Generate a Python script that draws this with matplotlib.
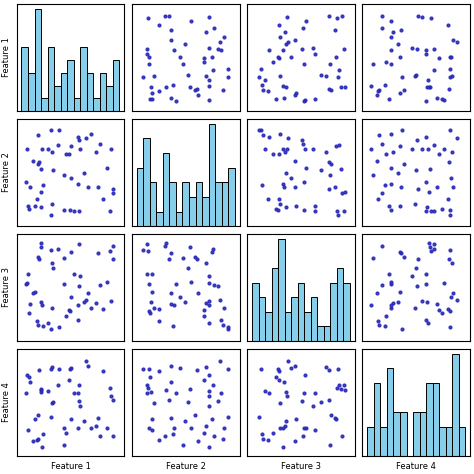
import matplotlib
matplotlib.use("Agg")
import matplotlib.pyplot as plt

feature_names = ["Feature 1", "Feature 2", "Feature 3", "Feature 4"]

f1 = [.30, .38, .17, .58, .71, .66, .59, .80, .37, .51, .06, .21, .27, .60, .31, .45, .49, .76, .91, .12,
      .18, .17, .20, .87, .32, .43, .51, .64, .05, .22, .09, .58, .68, .78, .93, .93, .20, .16, .83, .31,
      .07, .08, .14, .20, .43, .50, .54, .59, .90, .30]
f2 = [.93, .93, .88, .86, .89, .85, .83, .79, .78, .77, .74, .74, .74, .74, .71, .69, .69, .71, .74, .62,
      .61, .59, .54, .55, .52, .47, .44, .49, .40, .37, .35, .38, .35, .35, .33, .29, .30, .23, .23, .18,
      .16, .13, .16, .15, .12, .12, .10, .10, .11, .06]
f3 = [.07, .09, .11, .17, .29, .37, .51, .52, .89, .86, .54, .32, .13, .62, .75, .21, .27, .34, .36, .44,
      .79, .81, .91, .55, .70, .80, .40, .35, .53, .10, .33, .32, .44, .85, .79, .92, .95, .16, .28, .29,
      .64, .24, .45, .35, .53, .26, .64, .94, .87, .88]
f4 = [.35, .84, .12, .60, .24, .92, .51, .15, .68, .33, .78, .04, .62, .46, .86, .19, .73, .26, .56, .10,
      .83, .37, .64, .24, .50, .06, .85, .31, .60, .18, .71, .24, .87, .34, .52, .15, .63, .11, .82, .49,
      .22, .76, .33, .61, .24, .84, .60, .68, .65, .84]

data = [f1, f2, f3, f4]
n = len(data)

fig, axes = plt.subplots(n, n, figsize=(4.74, 4.74), dpi=100)
fig.subplots_adjust(left=0.035, right=0.992, bottom=0.038, top=0.992, wspace=0.07, hspace=0.07)

for i in range(n):
    for j in range(n):
        ax = axes[i, j]
        if i == j:
            ax.hist(data[i], bins=15, color="skyblue", edgecolor="black", linewidth=0.7)
        else:
            ax.scatter(data[j], data[i], s=4, color="#2a2ab8", alpha=0.9)
            ax.set_xlim(-0.05, 1.05)
            ax.set_ylim(-0.05, 1.05)
        ax.set_xticks([])
        ax.set_yticks([])
        if j == 0:
            ax.set_ylabel(feature_names[i], fontsize=6)
        if i == n - 1:
            ax.set_xlabel(feature_names[j], fontsize=6)

fig.savefig("out.png", dpi=100)
